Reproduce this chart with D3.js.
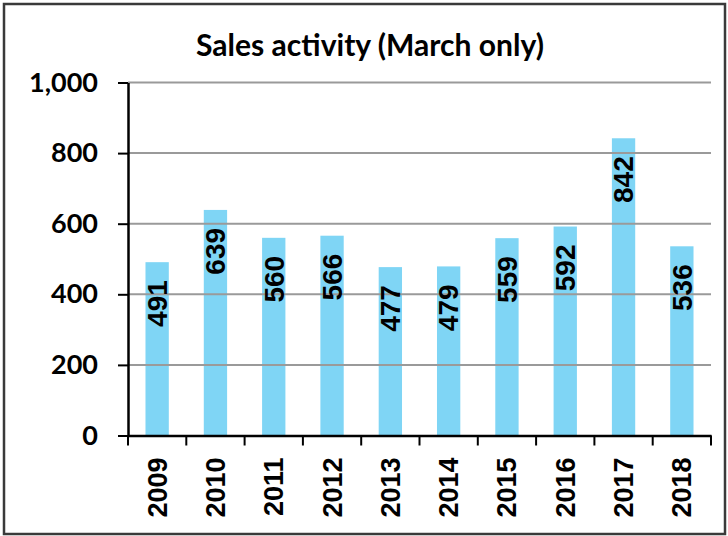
<!doctype html>
<html>
<head>
<meta charset="utf-8">
<style>
    body { margin: 0; background: #fff; }
    svg { display: block; }
    text.title { font-family: Lato, sans-serif; font-weight: 700; fill: #000; }
    .yaxis text { font-family: Lato, sans-serif; font-weight: 700; font-size: 27px; fill: #000; }
    .xaxis text { font-family: 'Liberation Sans', Arial, sans-serif; font-weight: 700; font-size: 27px; fill: #000; }
    text.value { font-family: 'Liberation Sans', Arial, sans-serif; font-weight: 700; font-size: 28px; fill: #000; }
    .bar { fill: #7fd5f5; }
    .grid line { stroke: #9a9a9a; stroke-width: 2; }
</style>
<script src="https://d3js.org/d3.v7.min.js"></script>
</head>
<body>
<svg width="728" height="536"></svg>
<script>
    const years = ['2009', '2010', '2011', '2012', '2013', '2014', '2015', '2016', '2017', '2018'];
    const sales = [491, 639, 560, 566, 477, 479, 559, 592, 842, 536];
    const yTicks = [0, 200, 400, 600, 800, 1000];

    const svg = d3.select('svg');
    const plotLeft = 128, plotRight = 711, plotTop = 82.5, plotBottom = 435.5;

    // chart frame
    svg.append('rect')
        .attr('x', 4).attr('y', 4)
        .attr('width', 721).attr('height', 530)
        .attr('fill', '#fff')
        .attr('stroke', '#3a3a3a')
        .attr('stroke-width', 2.5);

    const x = d3.scaleBand().domain(years).range([plotLeft, plotRight]).padding(0);
    const y = d3.scaleLinear().domain([0, 1000]).range([plotBottom, plotTop]);
    const barW = x.bandwidth() * 0.4;

    // bars
    svg.append('g').selectAll('rect')
        .data(years)
        .join('rect')
        .attr('class', 'bar')
        .attr('x', (d) => x(d) + x.bandwidth() / 2 - barW / 2)
        .attr('y', (d, i) => y(sales[i]))
        .attr('width', barW)
        .attr('height', (d, i) => plotBottom - y(sales[i]));

    // gridlines sit on top of the bars
    svg.append('g')
        .attr('class', 'grid')
        .selectAll('line')
        .data(yTicks.filter((t) => t > 0))
        .join('line')
        .attr('x1', plotLeft).attr('x2', plotRight)
        .attr('y1', (d) => y(d)).attr('y2', (d) => y(d));

    // y axis
    const yAxis = svg.append('g')
        .attr('class', 'yaxis')
        .attr('transform', `translate(${plotLeft},0)`)
        .call(d3.axisLeft(y).tickValues(yTicks).tickSize(10).tickSizeOuter(0).tickPadding(20)
            .tickFormat(d3.format(',')));
    yAxis.select('.domain').attr('stroke', '#000').attr('stroke-width', 2.5);
    yAxis.selectAll('.tick line').attr('stroke', '#000').attr('stroke-width', 2);

    // x axis
    const xAxis = svg.append('g')
        .attr('class', 'xaxis')
        .attr('transform', `translate(0,${plotBottom})`)
        .call(d3.axisBottom(x).tickSize(0).tickSizeOuter(0));
    xAxis.select('.domain').attr('stroke', '#000').attr('stroke-width', 2.5);
    xAxis.selectAll('.tick text')
        .attr('text-anchor', 'end')
        .attr('transform', 'translate(0,22) rotate(-90)')
        .attr('x', 0).attr('y', 0)
        .attr('dy', '0.35em');
    // category boundary ticks
    svg.append('g').selectAll('line')
        .data(years.concat(['end']))
        .join('line')
        .attr('x1', (d, i) => i < years.length ? x(d) : plotRight)
        .attr('x2', (d, i) => i < years.length ? x(d) : plotRight)
        .attr('y1', plotBottom).attr('y2', plotBottom + 10)
        .attr('stroke', '#000').attr('stroke-width', 2);

    // value labels, rotated inside bar tops
    svg.append('g').selectAll('text')
        .data(years)
        .join('text')
        .attr('class', 'value')
        .attr('text-anchor', 'end')
        .attr('dy', '0.35em')
        .attr('transform', (d, i) => `translate(${x(d) + x.bandwidth() / 2},${y(sales[i]) + 18}) rotate(-90)`)
        .text((d, i) => sales[i]);

    // title, sized to the reference width
    const title = svg.append('text')
        .attr('class', 'title')
        .attr('x', 370).attr('y', 56)
        .attr('text-anchor', 'middle')
        .style('font-size', '27px')
        .text('Sales activity (March only)');
    const tw = title.node().getComputedTextLength();
    title.style('font-size', (27 * 348 / tw) + 'px');
</script>
</body>
</html>
